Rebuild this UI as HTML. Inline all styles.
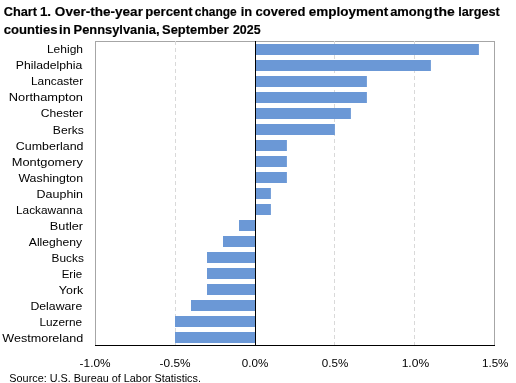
<!DOCTYPE html><html><head><meta charset="utf-8"><style>html,body{margin:0;padding:0;background:#fff;overflow:hidden;}svg{display:block;will-change:transform;}text{font-family:"Liberation Sans",sans-serif;white-space:pre;}</style></head><body>
<svg width="516" height="383" viewBox="0 0 516 383">
<rect x="95.5" y="41.5" width="399" height="304" fill="none" stroke="#a6a6a6" stroke-width="1"/>
<line x1="175.5" y1="41" x2="175.5" y2="345" stroke="#d9d9d9" stroke-width="1" stroke-dasharray="4 3"/>
<line x1="334.5" y1="41" x2="334.5" y2="345" stroke="#d9d9d9" stroke-width="1" stroke-dasharray="4 3"/>
<line x1="414.5" y1="41" x2="414.5" y2="345" stroke="#d9d9d9" stroke-width="1" stroke-dasharray="4 3"/>
<rect x="256" y="44" width="222.9" height="11" fill="#6b98d6"/>
<rect x="256" y="60" width="174.9" height="11" fill="#6b98d6"/>
<rect x="256" y="76" width="110.9" height="11" fill="#6b98d6"/>
<rect x="256" y="92" width="110.9" height="11" fill="#6b98d6"/>
<rect x="256" y="108" width="94.9" height="11" fill="#6b98d6"/>
<rect x="256" y="124" width="78.9" height="11" fill="#6b98d6"/>
<rect x="256" y="140" width="30.9" height="11" fill="#6b98d6"/>
<rect x="256" y="156" width="30.9" height="11" fill="#6b98d6"/>
<rect x="256" y="172" width="30.9" height="11" fill="#6b98d6"/>
<rect x="256" y="188" width="14.9" height="11" fill="#6b98d6"/>
<rect x="256" y="204" width="14.9" height="11" fill="#6b98d6"/>
<rect x="239.0" y="220" width="16.0" height="11" fill="#6b98d6"/>
<rect x="223.0" y="236" width="32.0" height="11" fill="#6b98d6"/>
<rect x="207.0" y="252" width="48.0" height="11" fill="#6b98d6"/>
<rect x="207.0" y="268" width="48.0" height="11" fill="#6b98d6"/>
<rect x="207.0" y="284" width="48.0" height="11" fill="#6b98d6"/>
<rect x="191.0" y="300" width="64.0" height="11" fill="#6b98d6"/>
<rect x="175.0" y="316" width="80.0" height="11" fill="#6b98d6"/>
<rect x="175.0" y="332" width="80.0" height="11" fill="#6b98d6"/>
<line x1="255.5" y1="41" x2="255.5" y2="345" stroke="#000" stroke-width="1"/>
<line x1="95" y1="345.5" x2="495" y2="345.5" stroke="#000" stroke-width="1"/>
<text x="3.72" y="16" font-size="12" font-weight="bold" fill="#000" textLength="33.36" lengthAdjust="spacingAndGlyphs" stroke="#000" stroke-width="0.15">Chart</text>
<text x="39.90" y="16" font-size="12" font-weight="bold" fill="#000" textLength="11.17" lengthAdjust="spacingAndGlyphs" stroke="#000" stroke-width="0.15">1.</text>
<text x="54.88" y="16" font-size="12" font-weight="bold" fill="#000" textLength="88.04" lengthAdjust="spacingAndGlyphs" stroke="#000" stroke-width="0.15">Over-the-year</text>
<text x="145.26" y="16" font-size="12" font-weight="bold" fill="#000" textLength="47.46" lengthAdjust="spacingAndGlyphs" stroke="#000" stroke-width="0.15">percent</text>
<text x="194.83" y="16" font-size="12" font-weight="bold" fill="#000" textLength="41.89" lengthAdjust="spacingAndGlyphs" stroke="#000" stroke-width="0.15">change</text>
<text x="240.65" y="16" font-size="12" font-weight="bold" fill="#000" textLength="11.46" lengthAdjust="spacingAndGlyphs" stroke="#000" stroke-width="0.15">in</text>
<text x="255.61" y="16" font-size="12" font-weight="bold" fill="#000" textLength="49.84" lengthAdjust="spacingAndGlyphs" stroke="#000" stroke-width="0.15">covered</text>
<text x="308.79" y="16" font-size="12" font-weight="bold" fill="#000" textLength="79.53" lengthAdjust="spacingAndGlyphs" stroke="#000" stroke-width="0.15">employment</text>
<text x="390.15" y="16" font-size="12" font-weight="bold" fill="#000" textLength="42.45" lengthAdjust="spacingAndGlyphs" stroke="#000" stroke-width="0.15">among</text>
<text x="433.87" y="16" font-size="12" font-weight="bold" fill="#000" textLength="20.87" lengthAdjust="spacingAndGlyphs" stroke="#000" stroke-width="0.15">the</text>
<text x="458.21" y="16" font-size="12" font-weight="bold" fill="#000" textLength="41.53" lengthAdjust="spacingAndGlyphs" stroke="#000" stroke-width="0.15">largest</text>
<text x="3.76" y="34" font-size="12" font-weight="bold" fill="#000" textLength="53.65" lengthAdjust="spacingAndGlyphs" stroke="#000" stroke-width="0.15">counties</text>
<text x="59.09" y="34" font-size="12" font-weight="bold" fill="#000" textLength="11.66" lengthAdjust="spacingAndGlyphs" stroke="#000" stroke-width="0.15">in</text>
<text x="73.56" y="34" font-size="12" font-weight="bold" fill="#000" textLength="85.94" lengthAdjust="spacingAndGlyphs" stroke="#000" stroke-width="0.15">Pennsylvania,</text>
<text x="162.12" y="34" font-size="12" font-weight="bold" fill="#000" textLength="66.57" lengthAdjust="spacingAndGlyphs" stroke="#000" stroke-width="0.15">September</text>
<text x="232.92" y="34" font-size="12" font-weight="bold" fill="#000" textLength="27.64" lengthAdjust="spacingAndGlyphs" stroke="#000" stroke-width="0.15">2025</text>
<text x="46.93" y="53.3" font-size="11" fill="#000" textLength="36.12" lengthAdjust="spacingAndGlyphs">Lehigh</text>
<text x="15.89" y="69.34" font-size="11" fill="#000" textLength="66.43" lengthAdjust="spacingAndGlyphs">Philadelphia</text>
<text x="31.00" y="85.39" font-size="11" fill="#000" textLength="52.10" lengthAdjust="spacingAndGlyphs">Lancaster</text>
<text x="8.77" y="101.44" font-size="11" fill="#000" textLength="74.21" lengthAdjust="spacingAndGlyphs">Northampton</text>
<text x="40.85" y="117.48" font-size="11" fill="#000" textLength="42.27" lengthAdjust="spacingAndGlyphs">Chester</text>
<text x="52.89" y="133.53" font-size="11" fill="#000" textLength="30.92" lengthAdjust="spacingAndGlyphs">Berks</text>
<text x="15.85" y="149.57" font-size="11" fill="#000" textLength="67.65" lengthAdjust="spacingAndGlyphs">Cumberland</text>
<text x="11.78" y="165.62" font-size="11" fill="#000" textLength="71.25" lengthAdjust="spacingAndGlyphs">Montgomery</text>
<text x="18.46" y="181.66" font-size="11" fill="#000" textLength="64.60" lengthAdjust="spacingAndGlyphs">Washington</text>
<text x="36.61" y="197.71" font-size="11" fill="#000" textLength="46.45" lengthAdjust="spacingAndGlyphs">Dauphin</text>
<text x="15.99" y="213.75" font-size="11" fill="#000" textLength="66.50" lengthAdjust="spacingAndGlyphs">Lackawanna</text>
<text x="49.89" y="229.8" font-size="11" fill="#000" textLength="33.19" lengthAdjust="spacingAndGlyphs">Butler</text>
<text x="28.82" y="245.84" font-size="11" fill="#000" textLength="53.38" lengthAdjust="spacingAndGlyphs">Allegheny</text>
<text x="51.59" y="261.89" font-size="11" fill="#000" textLength="32.28" lengthAdjust="spacingAndGlyphs">Bucks</text>
<text x="61.70" y="277.93" font-size="11" fill="#000" textLength="20.49" lengthAdjust="spacingAndGlyphs">Erie</text>
<text x="58.84" y="293.98" font-size="11" fill="#000" textLength="24.42" lengthAdjust="spacingAndGlyphs">York</text>
<text x="30.45" y="310.02" font-size="11" fill="#000" textLength="51.80" lengthAdjust="spacingAndGlyphs">Delaware</text>
<text x="39.49" y="326.07" font-size="11" fill="#000" textLength="42.67" lengthAdjust="spacingAndGlyphs">Luzerne</text>
<text x="2.31" y="342.11" font-size="11" fill="#000" textLength="80.84" lengthAdjust="spacingAndGlyphs">Westmoreland</text>
<text x="79.64" y="367.2" font-size="11.5" fill="#000" textLength="30.93" lengthAdjust="spacingAndGlyphs">-1.0%</text>
<text x="159.64" y="367.2" font-size="11.5" fill="#000" textLength="30.93" lengthAdjust="spacingAndGlyphs">-0.5%</text>
<text x="241.88" y="367.2" font-size="11.5" fill="#000" textLength="26.48" lengthAdjust="spacingAndGlyphs">0.0%</text>
<text x="321.88" y="367.2" font-size="11.5" fill="#000" textLength="26.48" lengthAdjust="spacingAndGlyphs">0.5%</text>
<text x="401.66" y="367.2" font-size="11.5" fill="#000" textLength="27.52" lengthAdjust="spacingAndGlyphs">1.0%</text>
<text x="481.98" y="367.2" font-size="11.5" fill="#000" textLength="26.47" lengthAdjust="spacingAndGlyphs">1.5%</text>
<text x="9.37" y="381.8" font-size="11" fill="#000" textLength="191.55" lengthAdjust="spacingAndGlyphs">Source: U.S. Bureau of Labor Statistics.</text>
</svg></body></html>
